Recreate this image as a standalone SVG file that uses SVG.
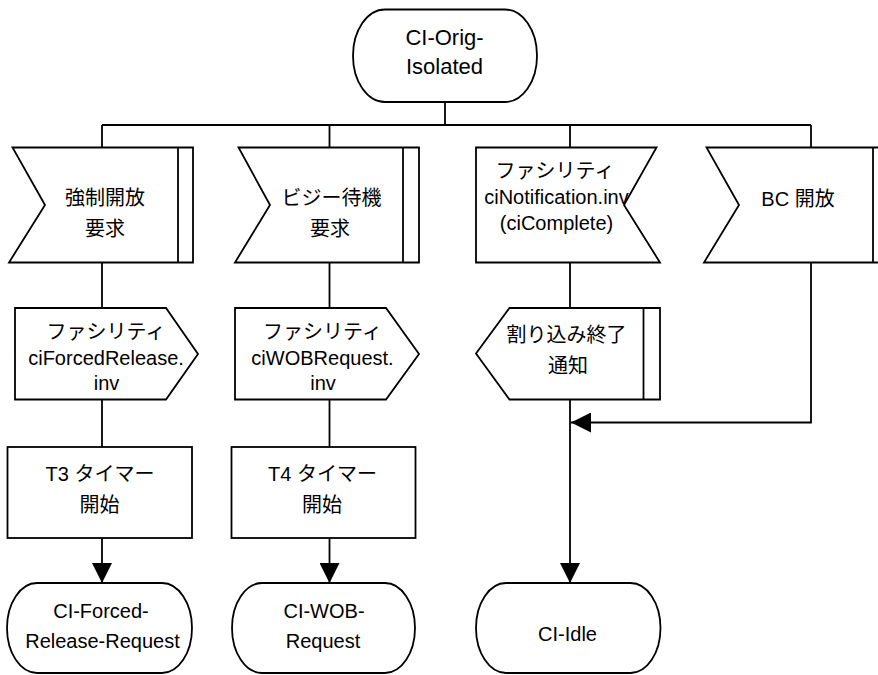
<svg xmlns="http://www.w3.org/2000/svg" width="878" height="675" viewBox="0 0 878 675">
  <style>
    .shape { fill: #ffffff; stroke: #000000; stroke-width: 1.8; stroke-linejoin: miter; }
    .line { fill: none; stroke: #000000; stroke-width: 1.8; }
    .label { font-family: "Liberation Sans", "Noto Sans CJK JP", sans-serif; font-size: 20px; fill: #000000; text-anchor: middle; }
    .big { font-size: 22px; }
  </style>
  <defs>
    <marker id="arrow" markerUnits="userSpaceOnUse" markerWidth="20" markerHeight="20" refX="20" refY="10" orient="auto">
      <path d="M0,0 L20,10 L0,20 Z" fill="#000000"/>
    </marker>
  </defs>

  <!-- connectors -->
  <g id="connectors">
    <path class="line" d="M445,102 V125"/>
    <path class="line" d="M102,125 H811"/>
    <path class="line" d="M102,125 V147.5"/>
    <path class="line" d="M329.5,125 V147.5"/>
    <path class="line" d="M570,125 V147.5"/>
    <path class="line" d="M811,125 V147.5"/>
    <!-- column 1 -->
    <path class="line" d="M102,262.5 V308"/>
    <path class="line" d="M102,399.5 V447"/>
    <path class="line" d="M102,538 V583" marker-end="url(#arrow)"/>
    <!-- column 2 -->
    <path class="line" d="M329.5,262.5 V308"/>
    <path class="line" d="M329.5,399.5 V447"/>
    <path class="line" d="M329.5,538 V583" marker-end="url(#arrow)"/>
    <!-- column 3 -->
    <path class="line" d="M570,262.5 V308"/>
    <path class="line" d="M570,399.5 V583" marker-end="url(#arrow)"/>
    <!-- column 4 joins column 3 -->
    <path class="line" d="M811,262.5 V422.5 H571" marker-end="url(#arrow)"/>
  </g>

  <!-- start state -->
  <g id="ci-orig-isolated">
    <rect class="shape" x="353" y="9.5" width="184" height="92.5" rx="32" ry="46"/>
    <text class="label big" x="444.5" y="45">CI-Orig-</text>
    <text class="label big" x="444.5" y="74">Isolated</text>
  </g>

  <!-- column 1 -->
  <g id="forced-release-req">
    <polygon class="shape" points="12.5,147.5 193,147.5 193,262.5 9,262.5 45,205"/>
    <path class="line" d="M178,147.5 V262.5"/>
    <text class="label" x="105" y="205">強制開放</text>
    <text class="label" x="105" y="235.5">要求</text>
  </g>
  <g id="ci-forced-release-inv">
    <polygon class="shape" points="15,308 166,308 198,354 166,399.5 15,399.5"/>
    <text class="label" x="106" y="338.5">ファシリティ</text>
    <text class="label" x="106" y="365">ciForcedRelease.</text>
    <text class="label" x="106.5" y="390">inv</text>
  </g>
  <g id="t3-start">
    <rect class="shape" x="7.5" y="447" width="184.5" height="91"/>
    <text class="label" x="100" y="481">T3 タイマー</text>
    <text class="label" x="99.5" y="512">開始</text>
  </g>
  <g id="ci-forced-release-request">
    <rect class="shape" x="7" y="583" width="185" height="90" rx="30" ry="45"/>
    <text class="label" x="101" y="618">CI-Forced-</text>
    <text class="label" x="102.5" y="648">Release-Request</text>
  </g>

  <!-- column 2 -->
  <g id="wob-req">
    <polygon class="shape" points="238.5,147.5 419,147.5 419,262.5 235,262.5 270,205"/>
    <path class="line" d="M403,147.5 V262.5"/>
    <text class="label" x="331.5" y="205">ビジー待機</text>
    <text class="label" x="330" y="235.5">要求</text>
  </g>
  <g id="ci-wob-request-inv">
    <polygon class="shape" points="235,308 386,308 419,354 386,399.5 235,399.5"/>
    <text class="label" x="322.5" y="338.5">ファシリティ</text>
    <text class="label" x="322.5" y="365">ciWOBRequest.</text>
    <text class="label" x="323" y="390">inv</text>
  </g>
  <g id="t4-start">
    <rect class="shape" x="231.5" y="447" width="184" height="91"/>
    <text class="label" x="322.5" y="481">T4 タイマー</text>
    <text class="label" x="322" y="512">開始</text>
  </g>
  <g id="ci-wob-request">
    <rect class="shape" x="232" y="583" width="183" height="90" rx="30" ry="45"/>
    <text class="label" x="324" y="618">CI-WOB-</text>
    <text class="label" x="323" y="648">Request</text>
  </g>

  <!-- column 3 -->
  <g id="ci-notification-inv">
    <polygon class="shape" points="476,147.5 656.5,147.5 624,205 660,262.5 476,262.5"/>
    <text class="label" x="555" y="177.5">ファシリティ</text>
    <text class="label" x="556.5" y="203.5">ciNotification.inv</text>
    <text class="label" x="556.5" y="230">(ciComplete)</text>
  </g>
  <g id="interrupt-end-notify">
    <polygon class="shape" points="476,353.5 509.5,308 660,308 660,399.5 509.5,399.5"/>
    <path class="line" d="M643.5,308 V399.5"/>
    <text class="label" x="566.5" y="341.5">割り込み終了</text>
    <text class="label" x="568" y="372.5">通知</text>
  </g>
  <g id="ci-idle">
    <rect class="shape" x="476" y="583" width="184.5" height="90" rx="30" ry="45"/>
    <text class="label" x="567.5" y="641">CI-Idle</text>
  </g>

  <!-- column 4 -->
  <g id="bc-release">
    <polygon class="shape" points="706.5,147.5 890,147.5 890,262.5 704,262.5 739,205"/>
    <path class="line" d="M873,147.5 V262.5"/>
    <text class="label" x="798" y="206">BC 開放</text>
  </g>
</svg>
